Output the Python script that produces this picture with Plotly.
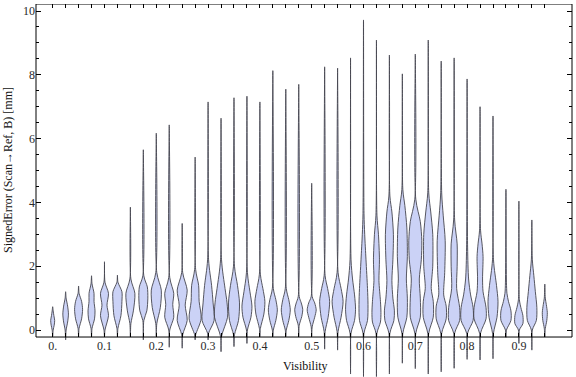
import plotly.graph_objects as go

# ---- data ----
visibility = [0.0, 0.025, 0.05, 0.075, 0.1, 0.125, 0.15, 0.175, 0.2, 0.225,
              0.25, 0.275, 0.3, 0.325, 0.35, 0.375, 0.4, 0.425, 0.45, 0.475,
              0.5, 0.525, 0.55, 0.575, 0.6, 0.625, 0.65, 0.675, 0.7, 0.725,
              0.75, 0.775, 0.8, 0.825, 0.85, 0.875, 0.9, 0.925, 0.95]

err_max = [0.73, 1.20, 1.38, 1.70, 2.14, 1.72, 3.85, 5.65, 6.17, 6.43,
           3.34, 5.42, 7.15, 6.64, 7.28, 7.33, 7.15, 8.13, 7.55, 7.70,
           4.60, 8.25, 8.21, 8.53, 9.72, 9.09, 8.62, 8.03, 8.65, 9.09,
           8.43, 8.53, 7.87, 7.00, 6.71, 4.41, 4.04, 3.45, 1.44]

err_min = [-0.20, -0.31, -0.21, -0.21, -0.21, -0.21, -0.21, -0.31, -0.21, -0.54,
           -0.57, -0.31, -0.31, -0.68, -0.52, -0.42, -0.21, -0.21, -0.21, -0.21,
           -0.21, -0.60, -0.63, -1.38, -1.46, -1.46, -1.38, -1.04, -1.21, -1.38,
           -1.31, -1.20, -0.92, -0.94, -0.90, -0.23, -0.42, -0.63, -0.22]

# density profile of each violin body: heights (mm) and relative density
body_y = [
    [0.0, 0.15, 0.3, 0.45, 0.6],
    [0.0, 0.25, 0.5, 0.75, 1.0],
    [0.05, 0.35, 0.65, 0.9, 1.15],
    [0.05, 0.35, 0.6, 0.9, 1.15, 1.45],
    [0.0, 0.45, 0.78, 1.15, 1.5],
    [0.05, 0.45, 0.9, 1.2, 1.5],
    [0.2, 0.6, 1.15, 1.6],
    [0.3, 0.6, 1.0, 1.35, 1.7],
    [0.2, 0.7, 1.25, 1.8],
    [0.0, 0.4, 0.8, 1.15, 1.65],
    [-0.15, 0.3, 0.78, 1.25, 1.8],
    [-0.15, 0.35, 0.9, 1.4, 1.9],
    [-0.1, 0.3, 0.85, 1.4, 2.2],
    [-0.2, 0.4, 0.85, 1.3, 2.2],
    [-0.15, 0.3, 0.85, 1.4, 2.0],
    [0.0, 0.4, 0.75, 1.2, 1.8],
    [0.05, 0.5, 0.9, 1.3, 1.75],
    [0.0, 0.3, 0.63, 0.95, 1.3],
    [0.0, 0.3, 0.63, 0.95, 1.3],
    [0.15, 0.42, 0.65, 0.85, 1.05],
    [0.1, 0.4, 0.63, 0.85, 1.05],
    [-0.05, 0.4, 0.9, 1.3, 1.7],
    [-0.05, 0.4, 0.9, 1.3, 1.8],
    [-0.1, 0.3, 0.65, 1.1, 1.6, 2.2],
    [-0.1, 0.3, 0.8, 1.3, 2.2, 3.0, 3.66],
    [-0.1, 0.25, 0.55, 0.9, 1.55, 2.2, 3.0, 3.6],
    [-0.1, 0.3, 0.6, 1.0, 1.55, 2.2, 3.0, 3.7, 4.2],
    [-0.1, 0.4, 1.0, 1.6, 2.3, 3.2, 3.9, 4.4],
    [-0.1, 0.4, 1.0, 1.6, 2.2, 2.8, 3.4, 4.1],
    [-0.1, 0.4, 0.9, 1.3, 2.0, 3.0, 3.7, 4.3],
    [-0.1, 0.35, 0.75, 1.1, 1.8, 2.8, 3.6, 4.3],
    [-0.1, 0.3, 0.7, 1.3, 2.0, 2.7, 3.45],
    [-0.1, 0.3, 0.7, 1.1, 1.6, 2.6],
    [-0.1, 0.35, 0.7, 1.2, 1.6, 2.3, 2.7, 3.13],
    [-0.1, 0.4, 0.9, 1.4, 2.2],
    [0.0, 0.3, 0.6, 0.9, 1.15, 1.5],
    [0.0, 0.2, 0.45, 0.7, 0.95],
    [0.0, 0.3, 0.7, 1.2, 1.7, 2.2],
    [0.05, 0.3, 0.55, 0.8, 1.0],
]
body_w = [
    [0.5, 1.5, 2.0, 1.2, 0.5],
    [0.5, 2.0, 2.8, 2.0, 0.5],
    [0.5, 3.0, 4.0, 3.0, 0.5],
    [0.5, 3.0, 3.5, 2.5, 2.5, 0.5],
    [0.5, 4.0, 2.5, 4.0, 0.5],
    [0.5, 3.5, 4.5, 4.5, 0.5],
    [0.5, 3.0, 4.5, 0.5],
    [0.5, 3.5, 4.5, 4.0, 0.5],
    [0.5, 4.0, 5.0, 0.5],
    [0.5, 4.5, 3.5, 4.5, 0.5],
    [0.5, 5.0, 3.0, 5.0, 0.5],
    [0.5, 6.0, 4.0, 3.5, 0.5],
    [0.5, 6.0, 5.0, 3.5, 0.5],
    [0.5, 6.5, 6.0, 4.0, 0.5],
    [0.5, 4.5, 5.5, 3.5, 0.5],
    [0.5, 4.0, 5.0, 3.0, 0.5],
    [0.5, 4.0, 5.0, 3.0, 0.5],
    [0.5, 3.0, 4.5, 3.0, 0.5],
    [0.5, 3.0, 4.5, 3.0, 0.5],
    [0.5, 3.0, 4.0, 2.5, 0.5],
    [0.5, 3.0, 4.5, 3.0, 0.5],
    [0.5, 3.5, 5.0, 3.0, 0.5],
    [0.5, 3.5, 5.5, 3.5, 0.5],
    [0.5, 4.0, 5.0, 4.0, 2.0, 0.5],
    [0.5, 4.0, 4.5, 4.0, 2.5, 1.2, 0.5],
    [0.5, 4.0, 4.5, 4.0, 2.5, 3.0, 2.0, 0.5],
    [0.5, 4.5, 5.0, 3.5, 2.5, 3.5, 4.0, 2.5, 0.5],
    [0.5, 4.5, 5.0, 4.0, 5.0, 4.5, 2.5, 0.5],
    [0.5, 5.0, 5.0, 4.0, 6.0, 6.5, 5.0, 0.5],
    [0.5, 5.0, 5.0, 3.0, 4.5, 4.5, 2.5, 0.5],
    [0.5, 5.0, 5.0, 2.5, 3.5, 4.0, 2.0, 0.5],
    [0.5, 5.5, 5.5, 2.5, 3.0, 3.0, 0.5],
    [0.5, 6.0, 6.0, 3.5, 1.5, 0.5],
    [0.5, 6.0, 6.0, 3.0, 2.5, 3.0, 2.0, 0.5],
    [0.5, 4.0, 5.0, 3.5, 0.5],
    [0.5, 5.0, 5.0, 2.5, 1.0, 0.5],
    [0.5, 4.0, 4.0, 2.0, 0.5],
    [0.5, 4.5, 5.0, 3.5, 2.0, 0.5],
    [0.5, 2.0, 2.5, 1.5, 0.5],
]

x_tick_vals = [0.0, 0.1, 0.2, 0.3, 0.4, 0.5, 0.6, 0.7, 0.8, 0.9]
x_tick_text = ["0.", "0.1", "0.2", "0.3", "0.4", "0.5", "0.6", "0.7", "0.8", "0.9"]
y_tick_vals = [0, 2, 4, 6, 8, 10]
y_tick_text = ["0", "2", "4", "6", "8", "10"]
y_minor_vals = [0.5, 1.0, 1.5, 2.5, 3.0, 3.5, 4.5, 5.0, 5.5, 6.5, 7.0, 7.5,
                8.5, 9.0, 9.5]

# ---- layout constants ----
X_RANGE = [-0.0322, 1.0025]
Y_RANGE = [-1.473, 10.22]
FRAME_BOTTOM = -0.22
DENS_SCALE = 1.0 / 518.0   # x-units per density unit
FONT = "Liberation Serif, Times New Roman, serif"

xs, ys = [], []
for cx, mn, mx, by, bw in zip(visibility, err_min, err_max, body_y, body_w):
    py = [mn] + by + [mx]
    pw = [0.0] + bw + [0.0]
    right_x = [cx + w * DENS_SCALE for w in pw]
    left_x = [cx - w * DENS_SCALE for w in pw]
    xs += right_x + left_x[::-1][1:] + [None]
    ys += py + py[::-1][1:] + [None]

fig = go.Figure()
fig.add_trace(go.Scatter(
    x=xs, y=ys, mode="lines", fill="toself",
    fillcolor="#cbd2f6",
    line=dict(color="rgba(70,70,80,0.9)", width=1, shape="spline", smoothing=0.8),
    hoverinfo="skip", showlegend=False,
))
fig.add_trace(go.Scatter(x=[None], y=[None], xaxis="x2", showlegend=False,
                         hoverinfo="skip"))

pos = (FRAME_BOTTOM - Y_RANGE[0]) / (Y_RANGE[1] - Y_RANGE[0])

fig.update_layout(
    width=576, height=377,
    margin=dict(l=36, r=4, t=4, b=0, autoexpand=False),
    paper_bgcolor="white", plot_bgcolor="white",
    font=dict(family=FONT, size=12, color="#222"),
    hovermode=False,
    xaxis=dict(
        range=X_RANGE, anchor="free", position=pos, automargin=False,
        showgrid=False, zeroline=False, showline=False,
        tickmode="array", tickvals=visibility,
        ticktext=[x_tick_text[x_tick_vals.index(v)] if v in x_tick_vals else ""
                  for v in visibility],
        ticks="inside", ticklen=4, tickcolor="black", tickwidth=1,
        tickfont=dict(family=FONT, size=12, color="#2a2a2a"),
    ),
    xaxis2=dict(
        range=X_RANGE, overlaying="x", side="top", anchor="y", automargin=False,
        showgrid=False, zeroline=False, showline=False,
        tickmode="array", tickvals=visibility, showticklabels=False,
        ticks="inside", ticklen=4, tickcolor="black", tickwidth=1,
    ),
    yaxis=dict(
        range=Y_RANGE, automargin=False,
        showgrid=False, zeroline=False, showline=False,
        tickmode="array", tickvals=y_tick_vals, ticktext=y_tick_text,
        ticks="inside", ticklen=5, tickcolor="black", tickwidth=1,
        mirror="ticks",
        minor=dict(tickmode="array", tickvals=y_minor_vals, ticks="inside",
                   ticklen=3, tickcolor="black", tickwidth=1),
        tickfont=dict(family=FONT, size=12, color="#2a2a2a"),
    ),
    shapes=[dict(type="rect", xref="paper", yref="y", x0=0, x1=1,
                 y0=FRAME_BOTTOM, y1=Y_RANGE[1],
                 line=dict(color="black", width=1), layer="above")],
    annotations=[
        dict(text="Visibility", xref="paper", yref="paper",
             x=(305 - 36) / 536, y=(377 - 366) / 373,
             xanchor="center", yanchor="middle", showarrow=False,
             font=dict(family=FONT, size=12, color="#111")),
        dict(text="SignedError (Scan→Ref, B) [mm]", xref="paper", yref="paper",
             x=(8 - 36) / 536, y=(377 - 170) / 373, textangle=-90,
             xanchor="center", yanchor="middle", showarrow=False,
             font=dict(family=FONT, size=12, color="#111")),
    ],
)

fig.write_html("out.html",
               config={"displayModeBar": False, "staticPlot": True},
               post_script="document.body.style.margin='0px';"
                           "document.body.style.overflow='hidden';")
